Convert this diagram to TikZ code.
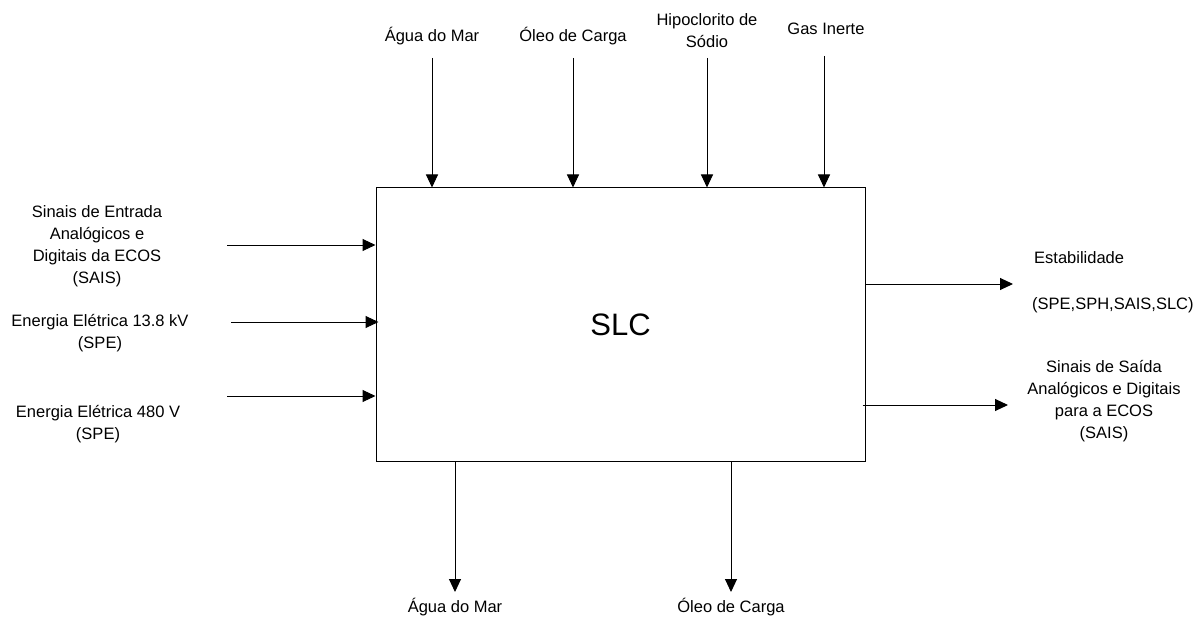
\documentclass[tikz,border=0pt]{standalone}
\usepackage{fontspec}
\setmainfont{Liberation Sans}
\usetikzlibrary{arrows.meta}
\tikzset{
  arr/.style={draw=black, line width=1pt, -{Triangle[length=13pt,width=12pt]}},
  lbl/.style={inner sep=0pt, align=center, font=\fontsize{16.5}{22}\selectfont},
  blk/.style={draw=black, line width=1pt, minimum width=489pt, minimum height=273pt, inner sep=0pt, font=\fontsize{31}{36}\selectfont}
}
\begin{document}
\begin{tikzpicture}[x=1pt,y=-1pt]
\useasboundingbox[fill=white] (0,0) rectangle (1200,623);
\node[blk] (box) at (620.5,324.5) {SLC};
% top inputs
\coordinate (t1) at (432,58);
\coordinate (t2) at (573,58);
\coordinate (t3) at (707,58);
\coordinate (t4) at (824,56);
\draw[arr] (t1) -- (t1 |- box.north);
\draw[arr] (t2) -- (t2 |- box.north);
\draw[arr] (t3) -- (t3 |- box.north);
\draw[arr] (t4) -- (t4 |- box.north);
\node[lbl] (lt1) at (432,36) {Água do Mar};
\node[lbl] (lt2) at (573,36) {Óleo de Carga};
\node[lbl] (lt3) at (707,31) {Hipoclorito de\\Sódio};
\node[lbl] (lt4) at (826,29) {Gas Inerte};
% left inputs
\coordinate (l1) at (227,245);
\coordinate (l2) at (231,322);
\coordinate (l3) at (227,396);
\draw[arr] (l1) -- (l1 -| box.west);
\draw[arr] (l2) -- ([xshift=3pt]l2 -| box.west);
\draw[arr] (l3) -- (l3 -| box.west);
\node[lbl] (ll1) at (97,246.5) {Sinais de Entrada\\Analógicos e\\Digitais da ECOS\\(SAIS)};
\node[lbl] (ll2) at (100,333) {Energia Elétrica 13.8 kV\\(SPE)};
\node[lbl] (ll3) at (98,424) {Energia Elétrica 480 V\\(SPE)};
% right outputs
\coordinate (r1) at (1013,284);
\coordinate (r2) at (1008,405);
\draw[arr] (r1 -| box.east) -- (r1);
\draw[arr] ([xshift=-3pt]r2 -| box.east) -- (r2);
\node[lbl, anchor=west] (lr1) at (1034,258) {Estabilidade};
\node[lbl, anchor=west] (lr1b) at (1032,305) {(SPE,SPH,SAIS,SLC)};
\node[lbl] (lr2) at (1104,401) {Sinais de Saída\\Analógicos e Digitais\\para a ECOS\\(SAIS)};
% bottom outputs
\coordinate (b1) at (455,592);
\coordinate (b2) at (731,592);
\draw[arr] (b1 |- box.south) -- (b1);
\draw[arr] (b2 |- box.south) -- (b2);
\node[lbl] (lb1) at (455,607) {Água do Mar};
\node[lbl] (lb2) at (731,607) {Óleo de Carga};
\end{tikzpicture}
\end{document}
